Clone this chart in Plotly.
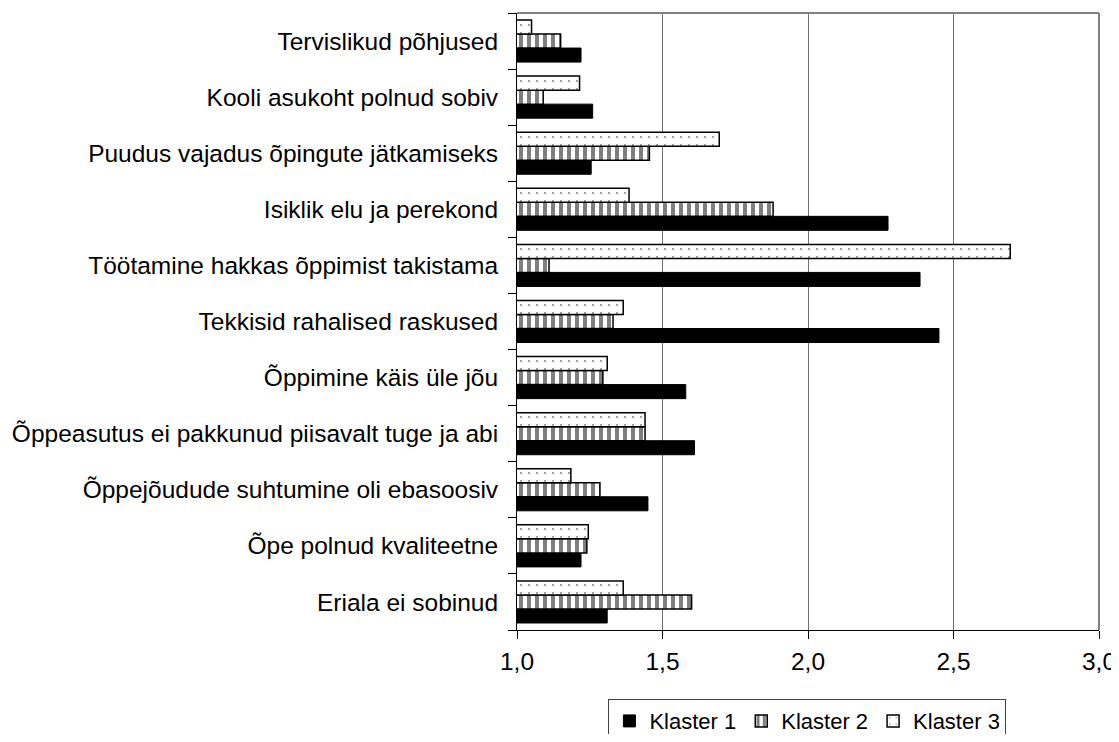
import plotly.graph_objects as go

# Categories listed bottom-to-top (as drawn on the y axis)
categories = [
    "Eriala ei sobinud",
    "Õpe polnud kvaliteetne",
    "Õppejõudude suhtumine oli ebasoosiv",
    "Õppeasutus ei pakkunud piisavalt tuge ja abi",
    "Õppimine käis üle jõu",
    "Tekkisid rahalised raskused",
    "Töötamine hakkas õppimist takistama",
    "Isiklik elu ja perekond",
    "Puudus vajadus õpingute jätkamiseks",
    "Kooli asukoht polnud sobiv",
    "Tervislikud põhjused",
]

klaster1 = [1.31, 1.22, 1.45, 1.61, 1.58, 2.45, 2.385, 2.275, 1.255, 1.26, 1.22]
klaster2 = [1.60, 1.24, 1.285, 1.44, 1.295, 1.33, 1.11, 1.88, 1.455, 1.09, 1.15]
klaster3 = [1.365, 1.245, 1.185, 1.44, 1.31, 1.365, 2.695, 1.385, 1.695, 1.215, 1.05]

series_names = ["Klaster 1", "Klaster 2", "Klaster 3"]
x_ticks = [1.0, 1.5, 2.0, 2.5, 3.0]

FONT = "Liberation Sans, Arial, sans-serif"
FS = 24.5

fig = go.Figure()
fig.add_trace(go.Bar(
    y=categories, x=klaster1, name=series_names[0], orientation="h",
    marker=dict(color="black", line=dict(color="black", width=1)),
))
fig.add_trace(go.Bar(
    y=categories, x=klaster2, name=series_names[1], orientation="h",
    marker=dict(color="white", line=dict(color="black", width=1.5),
                pattern=dict(shape="|", fgcolor="black", bgcolor="white",
                             size=8, solidity=0.5)),
))
fig.add_trace(go.Bar(
    y=categories, x=klaster3, name=series_names[2], orientation="h",
    marker=dict(color="white", line=dict(color="black", width=1.5),
                pattern=dict(shape=".", fgcolor="black", bgcolor="white",
                             size=8, solidity=0.045)),
))

fig.update_layout(
    width=1111, height=726,
    barmode="group", bargap=0.25, bargroupgap=0,
    paper_bgcolor="white", plot_bgcolor="white",
    margin=dict(l=509, r=20, t=5, b=104, autoexpand=False),
    font=dict(family=FONT, size=FS, color="black"),
    separators=", ",
    showlegend=True,
    legend=dict(orientation="h", x=0.499, xanchor="center", y=-0.112, yanchor="top",
                bordercolor="#404040", borderwidth=1, bgcolor="white",
                font=dict(family=FONT, size=22, color="black"),
                itemwidth=30, traceorder="normal"),
    xaxis=dict(range=[1, 3], tickvals=x_ticks, tickformat=".1f",
               showgrid=True, gridcolor="#707070", gridwidth=1,
               showline=True, linecolor="black", linewidth=1,
               ticks="outside", ticklen=8, tickcolor="black",
               zeroline=False, ticklabelstandoff=2, automargin=False,
               ticklabeloverflow="allow"),
    yaxis=dict(type="category", categoryorder="array", categoryarray=categories,
               showline=True, linecolor="black", linewidth=1,
               ticks="outside", ticklen=8, tickcolor="black",
               tickson="boundaries", showgrid=False, ticklabelstandoff=13,
               automargin=False),
    shapes=[
        dict(type="line", xref="x domain", yref="y domain", x0=0, x1=1, y0=1, y1=1,
             line=dict(color="#808080", width=2)),
        dict(type="line", xref="x domain", yref="y domain", x0=1, x1=1, y0=0, y1=1,
             line=dict(color="#808080", width=2)),
    ],
)

fig.write_html("out.html")
